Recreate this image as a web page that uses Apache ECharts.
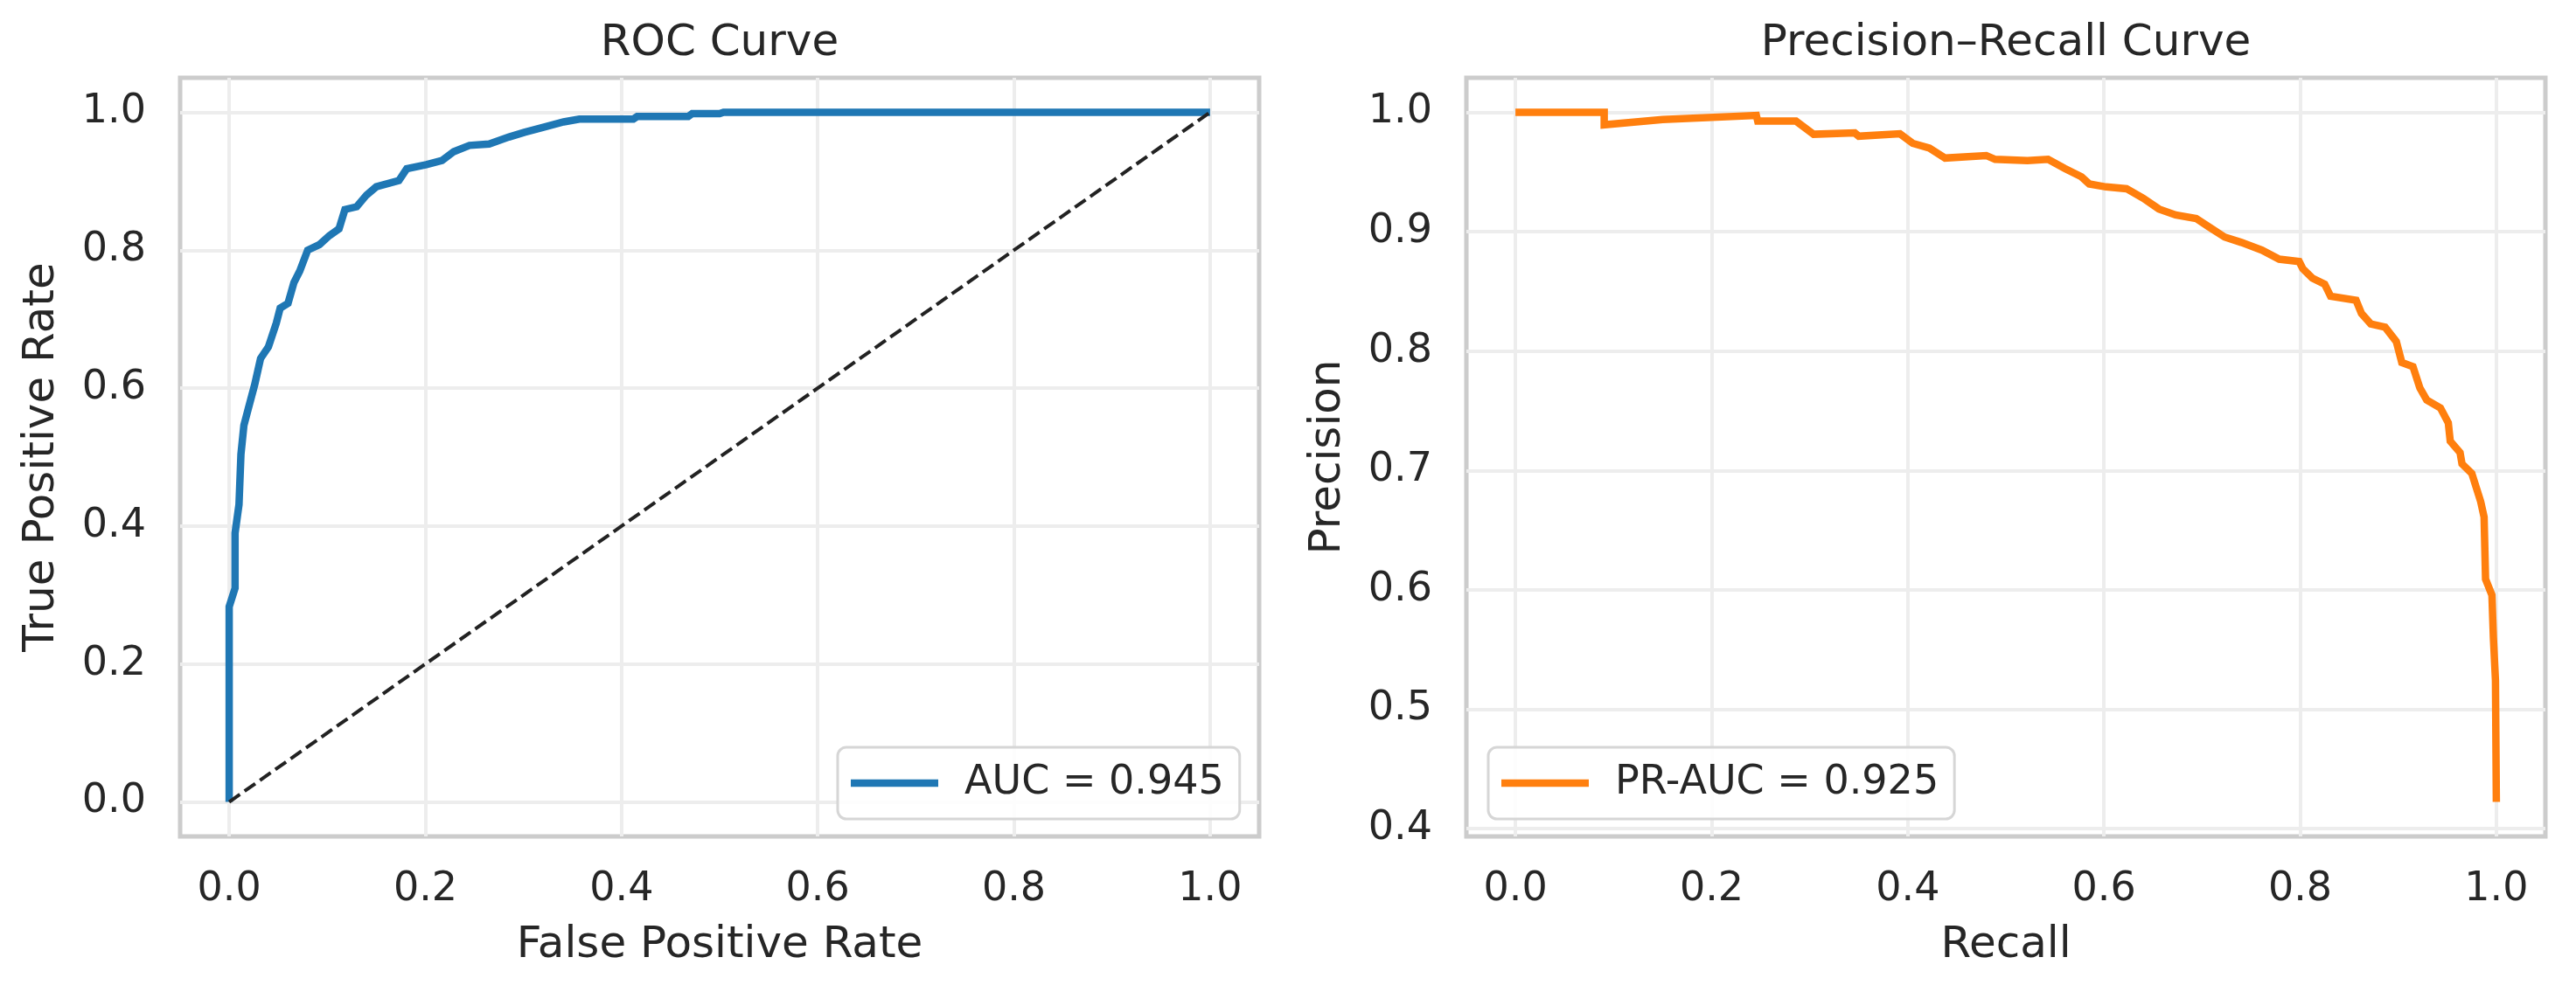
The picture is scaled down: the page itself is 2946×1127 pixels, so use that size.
<!DOCTYPE html>
<html><head><meta charset="utf-8">
<script src="https://cdn.jsdelivr.net/npm/echarts@6/dist/echarts.min.js"></script>
<style>html,body{margin:0;padding:0;background:#fff}#c{width:2946px;height:1127px}</style>
</head><body><div id="c"></div>
<script>
// ---------- data ----------
const rocFpr = [0, 0, 0.006, 0.006, 0.010, 0.012, 0.015, 0.020, 0.026, 0.032, 0.040, 0.048, 0.052, 0.060, 0.066, 0.072, 0.080, 0.092, 0.102, 0.112, 0.118, 0.130, 0.140, 0.150, 0.173, 0.181, 0.201, 0.217, 0.229, 0.245, 0.265, 0.285, 0.301, 0.317, 0.341, 0.357, 0.412, 0.416, 0.468, 0.472, 0.500, 0.504, 1.0];
const rocTpr = [0, 0.283, 0.310, 0.390, 0.431, 0.504, 0.546, 0.573, 0.605, 0.643, 0.660, 0.694, 0.716, 0.723, 0.753, 0.770, 0.800, 0.808, 0.821, 0.831, 0.859, 0.863, 0.880, 0.892, 0.901, 0.918, 0.924, 0.930, 0.943, 0.952, 0.954, 0.964, 0.971, 0.977, 0.986, 0.990, 0.990, 0.994, 0.994, 0.998, 0.998, 1.0, 1.0];
const chanceX = [0, 1];
const chanceY = [0, 1];
const prRecall = [0, 0.0905, 0.0905, 0.15, 0.2456, 0.247, 0.286, 0.304, 0.346, 0.35, 0.392, 0.405, 0.422, 0.438, 0.48, 0.489, 0.522, 0.543, 0.56, 0.577, 0.585, 0.602, 0.623, 0.64, 0.656, 0.673, 0.694, 0.707, 0.723, 0.74, 0.761, 0.7786, 0.799, 0.8027, 0.8125, 0.825, 0.831, 0.857, 0.8625, 0.872, 0.8866, 0.898, 0.9036, 0.915, 0.922, 0.929, 0.943, 0.951, 0.953, 0.963, 0.965, 0.975, 0.984, 0.9875, 0.989, 0.9955, 0.997, 0.9991, 1.0];
const prPrecision = [1.0, 1.0, 0.9895, 0.994, 0.9974, 0.9926, 0.9926, 0.9816, 0.9827, 0.98, 0.982, 0.974, 0.970, 0.9617, 0.9638, 0.9606, 0.9596, 0.9606, 0.953, 0.946, 0.940, 0.9375, 0.936, 0.928, 0.919, 0.914, 0.911, 0.904, 0.8955, 0.891, 0.8845, 0.877, 0.875, 0.869, 0.861, 0.856, 0.846, 0.8425, 0.8315, 0.8227, 0.82, 0.808, 0.7905, 0.787, 0.7692, 0.759, 0.7524, 0.74, 0.7245, 0.715, 0.7055, 0.6975, 0.674, 0.661, 0.609, 0.5956, 0.56, 0.524, 0.4224];
const unitTicks = [0, 0.2, 0.4, 0.6, 0.8, 1.0];
const precisionTicks = [0.4, 0.5, 0.6, 0.7, 0.8, 0.9, 1.0];
const rocLegend = 'AUC = 0.945';
const prLegend = 'PR-AUC = 0.925';
const chartTitles = ['ROC Curve', 'Precision\u2013Recall Curve'];
const xNames = ['False Positive Rate', 'Recall'];
const yNames = ['True Positive Rate', 'Precision'];

// ---------- styling ----------
const FONT = 'DejaVu Sans';
const TXT = '#262626';
const zip = (a, b) => a.map((v, i) => [v, b[i]]);
const fmt = v => Number(v).toFixed(1);

const GRID_W = 1234, GRID_H = 868, GRID_TOP = 89;
const LEFTS = [206, 1677];

function xAxis(i, name) {
  return {
    type: 'value', gridIndex: i, min: -0.05, max: 1.05,
    name: name, nameLocation: 'middle', nameGap: 100,
    nameTextStyle: {fontFamily: FONT, fontSize: 50, color: TXT},
    axisLine: {show: false},
    axisTick: {show: false, customValues: unitTicks},
    axisLabel: {customValues: unitTicks, formatter: fmt, margin: 38, fontFamily: FONT, fontSize: 46, color: TXT},
    splitLine: {show: true, lineStyle: {color: '#ededed', width: 4}}
  };
}
function yAxis(i, name, min, max, ticks) {
  return {
    type: 'value', gridIndex: i, min: min, max: max,
    name: name, nameLocation: 'middle', nameGap: 133, nameRotate: 90,
    nameTextStyle: {fontFamily: FONT, fontSize: 50, color: TXT},
    axisLine: {show: false},
    axisTick: {show: false, customValues: ticks},
    axisLabel: {customValues: ticks, formatter: fmt, margin: 39, fontFamily: FONT, fontSize: 46, color: TXT},
    splitLine: {show: true, lineStyle: {color: '#ededed', width: 4}}
  };
}
function legend(name, left) {
  return {
    data: [{name: name, icon: 'rect'}], left: left, top: 855, orient: 'horizontal',
    padding: [18, 18, 18, 15],
    itemWidth: 100, itemHeight: 8.5,
    backgroundColor: 'rgba(255,255,255,0.85)',
    borderColor: '#d6d6d6', borderWidth: 3, borderRadius: 10,
    textStyle: {fontFamily: FONT, fontSize: 46, color: TXT, padding: [0, 0, 0, 25]},
    selectedMode: false
  };
}

const chart = echarts.init(document.getElementById('c'), null, {renderer: 'canvas'});
chart.setOption({
  animation: false,
  backgroundColor: '#ffffff',
  title: chartTitles.map((t, i) => ({
    text: t, left: LEFTS[i] + GRID_W / 2, top: 25, textAlign: 'center', padding: 0,
    textStyle: {fontFamily: FONT, fontSize: 50, fontWeight: 'normal', color: TXT}
  })),
  grid: LEFTS.map(l => ({
    left: l, top: GRID_TOP, width: GRID_W, height: GRID_H,
    show: true, borderColor: '#cccccc', borderWidth: 5, backgroundColor: 'transparent'
  })),
  xAxis: [xAxis(0, xNames[0]), xAxis(1, xNames[1])],
  yAxis: [
    yAxis(0, yNames[0], -0.05, 1.05, unitTicks),
    yAxis(1, yNames[1], 0.3935, 1.0289, precisionTicks)
  ],
  legend: [legend(rocLegend, 958), legend(prLegend, 1702)],
  series: [
    {
      name: 'chance', type: 'line', xAxisIndex: 0, yAxisIndex: 0,
      data: zip(chanceX, chanceY), symbol: 'none', silent: true, z: 3,
      lineStyle: {color: '#222222', width: 4, type: [15, 6.5]}
    },
    {
      name: rocLegend, type: 'line', xAxisIndex: 0, yAxisIndex: 0,
      data: zip(rocFpr, rocTpr), symbol: 'none', z: 2,
      itemStyle: {color: '#1f77b4'},
      lineStyle: {color: '#1f77b4', width: 8.5, cap: 'butt', join: 'miter'}
    },
    {
      name: prLegend, type: 'line', xAxisIndex: 1, yAxisIndex: 1,
      data: zip(prRecall, prPrecision), symbol: 'none', z: 2,
      itemStyle: {color: '#ff7f0e'},
      lineStyle: {color: '#ff7f0e', width: 8.5, cap: 'butt', join: 'miter'}
    }
  ]
});
</script>
</body></html>
